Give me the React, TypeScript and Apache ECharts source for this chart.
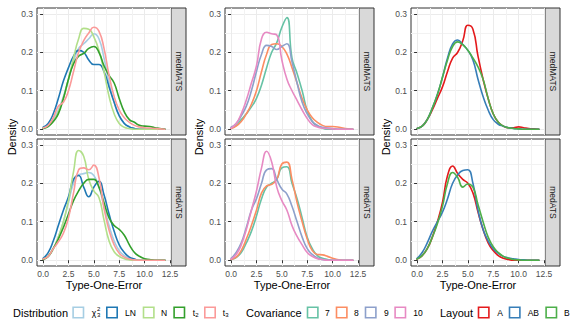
import React, { useEffect, useRef } from "react";
import * as echarts from "echarts";

// ---------- data ----------
const X_GRID = [0, 0.5, 1, 1.5, 2, 2.5, 3, 3.5, 4, 4.5, 5, 5.5, 6, 6.5, 7, 7.5, 8, 8.5, 9, 9.5, 10, 10.5, 11, 11.5, 12];
const X_TICKS = [0, 2.5, 5, 7.5, 10, 12.5];
const X_TICK_LABELS = ["0.0", "2.5", "5.0", "7.5", "10.0", "12.5"];
const Y_TICKS = [0, 0.1, 0.2, 0.3];
const Y_TICK_LABELS = ["0.0", "0.1", "0.2", "0.3"];
const ROW_LABELS = ["medMATS", "medATS"];

const DIST_NAMES = ["χ²₃", "LN", "N", "t₂", "t₃"];
const DIST_COLORS = ["#A6CEE3", "#1F78B4", "#B2DF8A", "#33A02C", "#FB9A99"];
const COV_NAMES = ["7", "8", "9", "10"];
const COV_COLORS = ["#66C2A5", "#FC8D62", "#8DA0CB", "#E78AC3"];
const LAYOUT_NAMES = ["A", "AB", "B"];
const LAYOUT_COLORS = ["#E41A1C", "#377EB8", "#4DAF4A"];

// Distribution, medMATS
const CHISQ_MATS = [0.003, 0.01, 0.025, 0.05, 0.085, 0.13, 0.175, 0.21, 0.222, 0.235, 0.248, 0.235, 0.185, 0.12, 0.07, 0.035, 0.015, 0.006, 0.002, 0, 0, 0, 0, 0, 0];
const LN_MATS = [0.005, 0.015, 0.04, 0.08, 0.125, 0.16, 0.19, 0.205, 0.2, 0.18, 0.168, 0.168, 0.15, 0.11, 0.07, 0.035, 0.015, 0.006, 0.002, 0, 0, 0, 0, 0, 0];
const N_MATS = [0.003, 0.008, 0.02, 0.045, 0.08, 0.13, 0.185, 0.235, 0.262, 0.26, 0.24, 0.205, 0.15, 0.085, 0.04, 0.015, 0.005, 0.002, 0, 0, 0, 0, 0, 0, 0];
const T2_MATS = [0.002, 0.007, 0.02, 0.04, 0.08, 0.13, 0.17, 0.19, 0.197, 0.21, 0.215, 0.2, 0.165, 0.14, 0.12, 0.08, 0.045, 0.025, 0.018, 0.01, 0.008, 0.007, 0.004, 0.002, 0];
const T3_MATS = [0.003, 0.01, 0.03, 0.06, 0.07, 0.1, 0.15, 0.2, 0.23, 0.25, 0.265, 0.255, 0.21, 0.14, 0.085, 0.05, 0.03, 0.018, 0.01, 0.006, 0.004, 0.003, 0.002, 0.001, 0];
// Distribution, medATS
const CHISQ_ATS = [0.003, 0.01, 0.03, 0.06, 0.1, 0.15, 0.2, 0.222, 0.225, 0.228, 0.22, 0.19, 0.14, 0.09, 0.05, 0.025, 0.012, 0.005, 0.002, 0, 0, 0, 0, 0, 0];
const LN_ATS = [0.005, 0.02, 0.05, 0.09, 0.13, 0.165, 0.21, 0.22, 0.19, 0.165, 0.19, 0.205, 0.17, 0.12, 0.075, 0.04, 0.02, 0.008, 0.003, 0, 0, 0, 0, 0, 0];
const N_ATS = [0.003, 0.01, 0.03, 0.06, 0.1, 0.155, 0.23, 0.285, 0.27, 0.21, 0.18, 0.163, 0.105, 0.05, 0.022, 0.01, 0.004, 0.001, 0, 0, 0, 0, 0, 0, 0];
const T2_ATS = [0.002, 0.01, 0.03, 0.055, 0.085, 0.12, 0.155, 0.18, 0.2, 0.21, 0.21, 0.19, 0.15, 0.11, 0.09, 0.08, 0.065, 0.04, 0.02, 0.01, 0.004, 0.002, 0, 0, 0];
const T3_ATS = [0.003, 0.01, 0.03, 0.048, 0.07, 0.11, 0.175, 0.235, 0.24, 0.235, 0.247, 0.215, 0.135, 0.078, 0.04, 0.018, 0.008, 0.003, 0.001, 0, 0, 0, 0, 0, 0];
// Covariance, medMATS
const COV7_MATS = [0.003, 0.01, 0.025, 0.04, 0.058, 0.08, 0.115, 0.16, 0.2, 0.225, 0.265, 0.29, 0.185, 0.145, 0.1, 0.048, 0.02, 0.008, 0.003, 0, 0, 0, 0, 0, 0];
const COV8_MATS = [0.002, 0.008, 0.02, 0.04, 0.065, 0.1, 0.15, 0.195, 0.22, 0.222, 0.215, 0.195, 0.16, 0.12, 0.08, 0.05, 0.03, 0.018, 0.01, 0.007, 0.007, 0.006, 0.003, 0.001, 0];
const COV9_MATS = [0.005, 0.015, 0.035, 0.06, 0.1, 0.15, 0.195, 0.218, 0.215, 0.207, 0.215, 0.222, 0.175, 0.12, 0.07, 0.04, 0.02, 0.01, 0.005, 0.003, 0.002, 0, 0, 0, 0];
const COV10_MATS = [0.003, 0.015, 0.04, 0.076, 0.12, 0.165, 0.235, 0.252, 0.248, 0.245, 0.18, 0.13, 0.1, 0.075, 0.05, 0.028, 0.012, 0.006, 0.003, 0.002, 0.001, 0, 0, 0, 0];
// Covariance, medATS
const COV7_ATS = [0.002, 0.007, 0.02, 0.045, 0.075, 0.115, 0.16, 0.19, 0.2, 0.21, 0.24, 0.243, 0.2, 0.16, 0.11, 0.06, 0.03, 0.012, 0.005, 0.002, 0, 0, 0, 0, 0];
const COV8_ATS = [0.002, 0.008, 0.025, 0.055, 0.09, 0.13, 0.175, 0.193, 0.197, 0.21, 0.25, 0.255, 0.21, 0.15, 0.1, 0.055, 0.025, 0.015, 0.014, 0.01, 0.005, 0.002, 0, 0, 0];
const COV9_ATS = [0.005, 0.02, 0.045, 0.085, 0.13, 0.16, 0.2, 0.235, 0.238, 0.21, 0.185, 0.172, 0.14, 0.1, 0.06, 0.03, 0.015, 0.006, 0.002, 0, 0, 0, 0, 0, 0];
const COV10_ATS = [0.003, 0.015, 0.04, 0.08, 0.13, 0.18, 0.24, 0.283, 0.255, 0.19, 0.155, 0.13, 0.09, 0.062, 0.04, 0.02, 0.01, 0.004, 0.002, 0, 0, 0, 0, 0, 0];
// Layout, medMATS
const A_MATS = [0.002, 0.008, 0.025, 0.05, 0.08, 0.11, 0.15, 0.185, 0.2, 0.23, 0.27, 0.26, 0.19, 0.13, 0.08, 0.04, 0.018, 0.008, 0.004, 0.004, 0.006, 0.004, 0.002, 0.001, 0];
const AB_MATS = [0.002, 0.008, 0.025, 0.055, 0.09, 0.135, 0.185, 0.222, 0.232, 0.22, 0.205, 0.18, 0.13, 0.085, 0.05, 0.025, 0.013, 0.008, 0.004, 0.002, 0.001, 0, 0, 0, 0];
const B_MATS = [0.002, 0.008, 0.025, 0.055, 0.09, 0.135, 0.18, 0.215, 0.227, 0.22, 0.205, 0.185, 0.162, 0.13, 0.08, 0.04, 0.018, 0.008, 0.004, 0.002, 0.001, 0, 0, 0, 0];
// Layout, medATS
const A_ATS = [0.003, 0.012, 0.03, 0.06, 0.1, 0.15, 0.22, 0.245, 0.225, 0.21, 0.2, 0.175, 0.125, 0.08, 0.045, 0.025, 0.012, 0.005, 0.002, 0, 0, 0, 0, 0, 0];
const AB_ATS = [0.005, 0.02, 0.045, 0.075, 0.1, 0.125, 0.16, 0.2, 0.222, 0.233, 0.235, 0.2, 0.13, 0.08, 0.05, 0.03, 0.018, 0.01, 0.006, 0.004, 0.002, 0.001, 0, 0, 0];
const B_ATS = [0.003, 0.012, 0.03, 0.06, 0.095, 0.14, 0.2, 0.228, 0.215, 0.19, 0.198, 0.19, 0.145, 0.1, 0.06, 0.035, 0.02, 0.01, 0.005, 0.002, 0.001, 0, 0, 0, 0];

// ---------- layout ----------
const FONT = "'Liberation Sans', Arial, Helvetica, sans-serif";
const COL_LEFT = [37, 225, 411];
const PLOT_W = 134;
const STRIP_W = 15;
const ROW_TOP = [8, 139];
const PLOT_H = 127;
const Y_TITLE_X = [12, 199, 386];
const X_TITLE_Y = 285;

const GROUPS = [
  { names: DIST_NAMES, colors: DIST_COLORS, rows: [[CHISQ_MATS, LN_MATS, N_MATS, T2_MATS, T3_MATS], [CHISQ_ATS, LN_ATS, N_ATS, T2_ATS, T3_ATS]] },
  { names: COV_NAMES, colors: COV_COLORS, rows: [[COV7_MATS, COV8_MATS, COV9_MATS, COV10_MATS], [COV7_ATS, COV8_ATS, COV9_ATS, COV10_ATS]] },
  { names: LAYOUT_NAMES, colors: LAYOUT_COLORS, rows: [[A_MATS, AB_MATS, B_MATS], [A_ATS, AB_ATS, B_ATS]] },
];

const LEGENDS = [
  { title: "Distribution", titleX: 13, boxX: [72.3, 106, 142.7, 173.3, 204], labelX: [91.7, 125, 161, 192.7, 222.7] },
  { title: "Covariance", titleX: 246, boxX: [306.7, 335.7, 364.7, 394.3], labelX: [325, 354, 384, 413.3] },
  { title: "Layout", titleX: 440, boxX: [477.7, 508.7, 545.3], labelX: [497.3, 527.7, 564] },
];
const DIST_LABEL_PARTS = [
  { base: "χ", sup: "2", sub: "3" },
  { base: "LN" },
  { base: "N" },
  { base: "t", sub: "2" },
  { base: "t", sub: "3" },
];
const LEGEND_Y = 312.5;

function lookup(ticks: number[], labels: string[], v: number) {
  for (let i = 0; i < ticks.length; i++) if (Math.abs(ticks[i] - v) < 1e-6) return labels[i];
  return "";
}

function txt(x: number, y: number, text: string, size: number, fill: string, align = "center", rotation = 0, vAlign = "middle") {
  return {
    type: "text",
    x,
    y,
    rotation,
    silent: true,
    style: {
      text,
      fill,
      fontSize: size,
      fontFamily: FONT,
      textAlign: align,
      align,
      textVerticalAlign: vAlign,
      verticalAlign: vAlign,
    },
  };
}

export default function App() {
  const ref = useRef<HTMLDivElement>(null);

  useEffect(() => {
    if (!ref.current) return;
    const chart = echarts.init(ref.current, undefined, { renderer: "svg" });

    const grids: any[] = [];
    const xAxes: any[] = [];
    const yAxes: any[] = [];
    const series: any[] = [];
    const graphics: any[] = [];

    GROUPS.forEach((g, c) => {
      g.rows.forEach((rowVals, r) => {
        const idx = c * 2 + r;
        grids.push({
          left: COL_LEFT[c],
          top: ROW_TOP[r],
          width: PLOT_W,
          height: PLOT_H,
          show: true,
          backgroundColor: "#FFFFFF",
          borderColor: "#333333",
          borderWidth: 1,
          containLabel: false,
        });
        xAxes.push({
          type: "value",
          gridIndex: idx,
          min: -0.6,
          max: 12.6,
          minInterval: 2.5,
          maxInterval: 2.5,
          splitNumber: 5,
          axisLine: { show: false },
          axisTick: { show: r === 1, length: 3, customValues: X_TICKS, lineStyle: { color: "#333333", width: 1 } },
          axisLabel: {
            show: r === 1,
            customValues: X_TICKS,
            margin: 3,
            color: "#4D4D4D",
            fontSize: 8.5,
            fontFamily: FONT,
            formatter: (v: number) => lookup(X_TICKS, X_TICK_LABELS, v),
          },
          splitLine: { show: true, lineStyle: { color: "#EBEBEB", width: 1 } },
          minorTick: { show: false, splitNumber: 2 },
          minorSplitLine: { show: true, lineStyle: { color: "#F2F2F2", width: 1 } },
        });
        yAxes.push({
          type: "value",
          gridIndex: idx,
          min: -0.015,
          max: 0.315,
          minInterval: 0.1,
          maxInterval: 0.1,
          splitNumber: 3,
          axisLine: { show: false },
          axisTick: { show: true, length: 3, customValues: Y_TICKS, lineStyle: { color: "#333333", width: 1 } },
          axisLabel: {
            show: true,
            customValues: Y_TICKS,
            margin: 4,
            color: "#4D4D4D",
            fontSize: 8.5,
            fontFamily: FONT,
            formatter: (v: number) => lookup(Y_TICKS, Y_TICK_LABELS, v),
          },
          splitLine: { show: true, lineStyle: { color: "#EBEBEB", width: 1 } },
          minorTick: { show: false, splitNumber: 2 },
          minorSplitLine: { show: true, lineStyle: { color: "#F2F2F2", width: 1 } },
        });
        rowVals.forEach((vals, k) => {
          series.push({
            type: "line",
            name: g.names[k],
            xAxisIndex: idx,
            yAxisIndex: idx,
            data: X_GRID.map((x, i) => [x, vals[i]]),
            showSymbol: false,
            symbol: "none",
            smooth: 0.5,
            lineStyle: { color: g.colors[k], width: 1.6, join: "round", cap: "round" },
            itemStyle: { color: g.colors[k] },
            z: 2 + k,
            silent: true,
          });
        });
        // strip
        const sx = COL_LEFT[c] + PLOT_W;
        graphics.push({
          type: "rect",
          silent: true,
          shape: { x: sx, y: ROW_TOP[r], width: STRIP_W, height: PLOT_H },
          style: { fill: "#D9D9D9", stroke: "#333333", lineWidth: 1 },
        });
        graphics.push(txt(sx + STRIP_W / 2, ROW_TOP[r] + PLOT_H / 2, ROW_LABELS[r], 8.5, "#1A1A1A", "center", -Math.PI / 2));
      });
      // axis titles
      graphics.push(txt(Y_TITLE_X[c], (ROW_TOP[0] + ROW_TOP[1] + PLOT_H) / 2, "Density", 11, "#000000", "center", Math.PI / 2));
      graphics.push(txt(COL_LEFT[c] + PLOT_W / 2, X_TITLE_Y, "Type-One-Error", 11, "#000000", "center"));
    });

    // legends
    LEGENDS.forEach((lg, c) => {
      graphics.push(txt(lg.titleX, LEGEND_Y, lg.title, 11, "#000000", "left"));
      const g = GROUPS[c];
      g.names.forEach((nm, k) => {
        graphics.push({
          type: "rect",
          silent: true,
          shape: { x: lg.boxX[k] + 0.8, y: LEGEND_Y - 6 + 0.8, width: 10.4, height: 10.4 },
          style: { fill: "#FFFFFF", stroke: g.colors[k], lineWidth: 1.6 },
        });
        if (c === 0) {
          const p = DIST_LABEL_PARTS[k] as any;
          graphics.push(txt(lg.labelX[k], LEGEND_Y, p.base, 8.5, "#000000", "left"));
          const bw = p.base === "χ" ? 5.3 : 2.6;
          if (p.sup) graphics.push(txt(lg.labelX[k] + bw, LEGEND_Y - 3.3, p.sup, 6, "#000000", "left"));
          if (p.sub) graphics.push(txt(lg.labelX[k] + bw, LEGEND_Y + 2.3, p.sub, 6, "#000000", "left"));
        } else {
          graphics.push(txt(lg.labelX[k], LEGEND_Y, nm, 8.5, "#000000", "left"));
        }
      });
    });

    chart.setOption({
      animation: false,
      backgroundColor: "#FFFFFF",
      textStyle: { fontFamily: FONT },
      grid: grids,
      xAxis: xAxes,
      yAxis: yAxes,
      series,
      graphic: { elements: graphics },
    });

    return () => chart.dispose();
  }, []);

  return <div ref={ref} style={{ position: "fixed", left: 0, top: 0, width: 570, height: 332 }} />;
}
